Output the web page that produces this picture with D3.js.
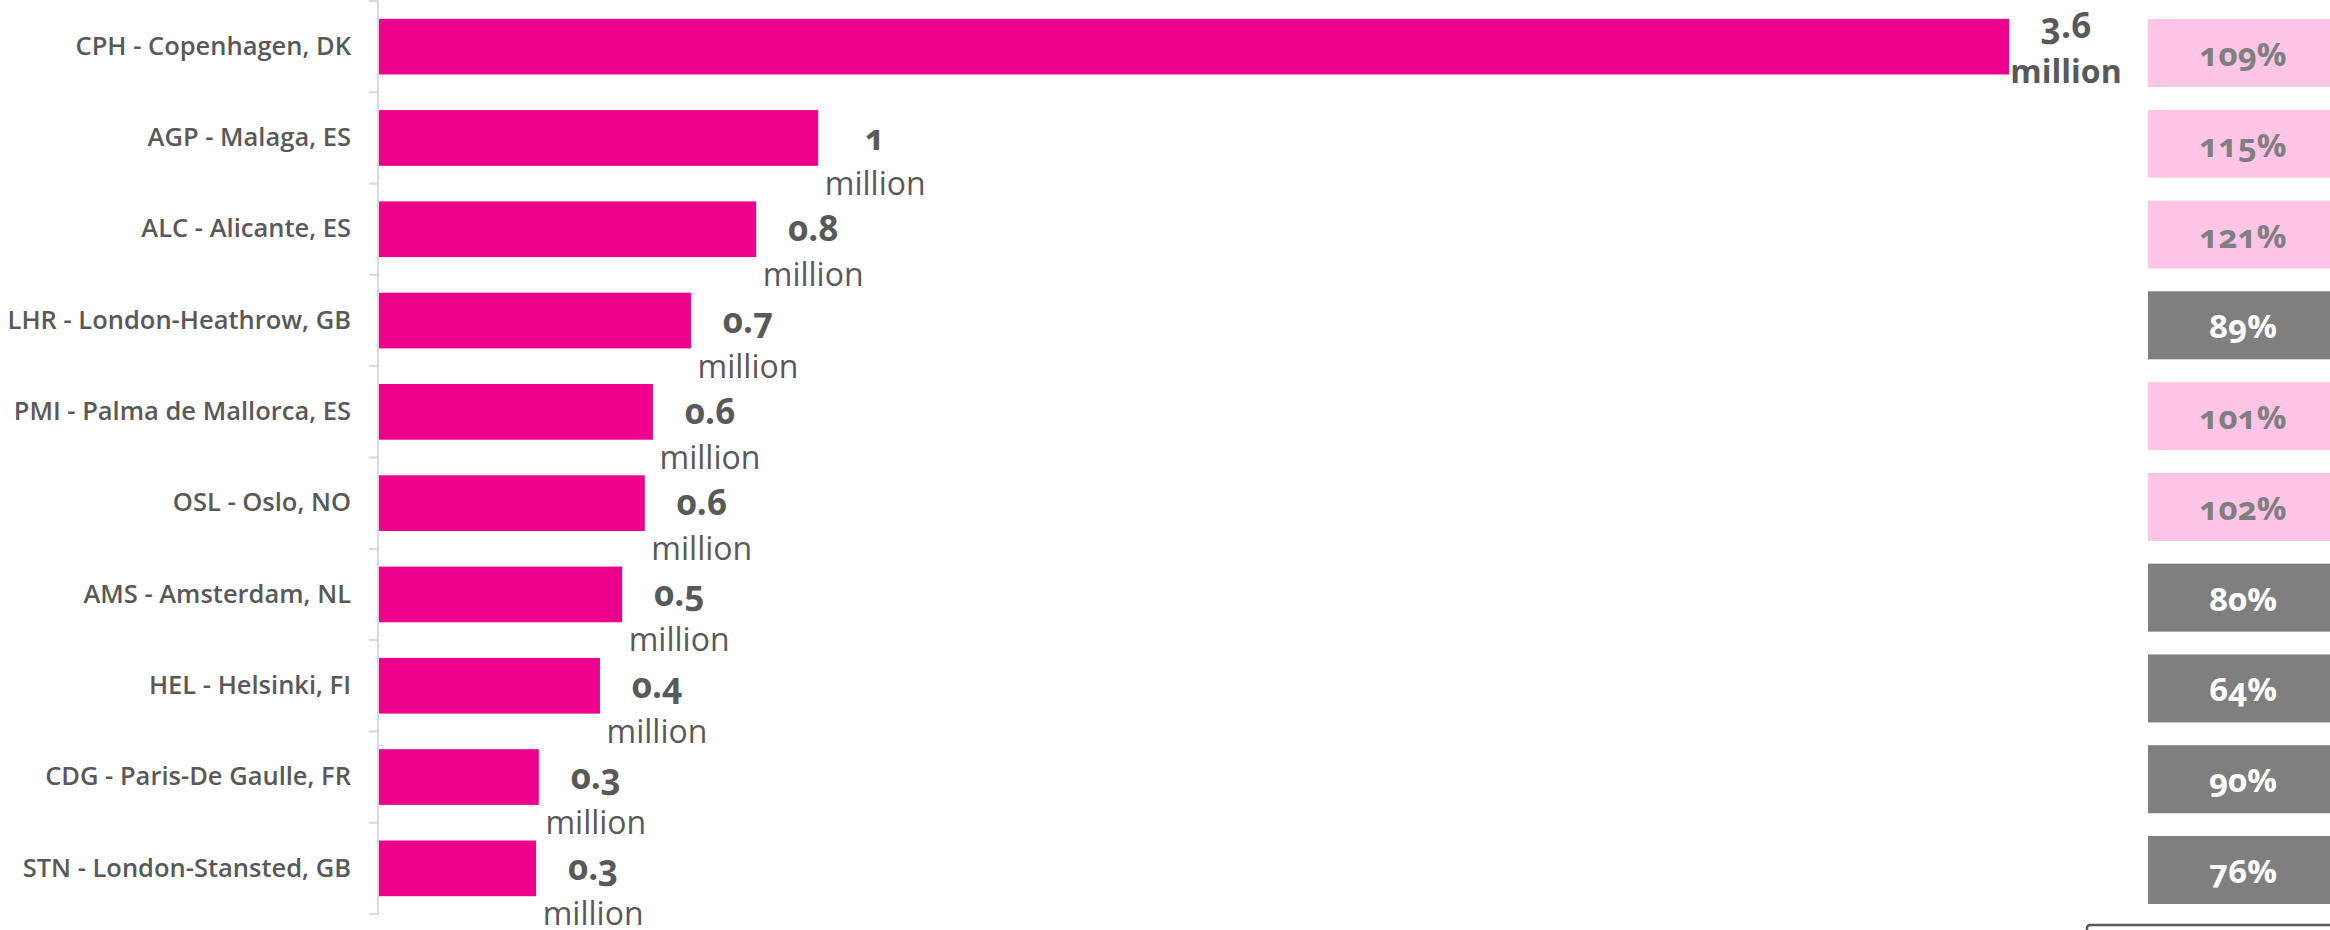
<!DOCTYPE html>
<html>
<head>
<meta charset="utf-8">
<script src="https://cdn.jsdelivr.net/npm/d3@7"></script>
<style>
  body { margin: 0; background: #fff; }
  svg { display: block; }
  text { font-family: "Open Sans", Lato, sans-serif; }
  .num { font-variant-numeric: oldstyle-nums; }
</style>
</head>
<body>
<div id="chart"></div>
<script>
const airports = [
  "CPH - Copenhagen, DK",
  "AGP - Malaga, ES",
  "ALC - Alicante, ES",
  "LHR - London-Heathrow, GB",
  "PMI - Palma de Mallorca, ES",
  "OSL - Oslo, NO",
  "AMS - Amsterdam, NL",
  "HEL - Helsinki, FI",
  "CDG - Paris-De Gaulle, FR",
  "STN - London-Stansted, GB"
]
// passengers in millions
const passengers = [3.6, 0.97, 0.833, 0.689, 0.605, 0.587, 0.537, 0.488, 0.353, 0.347]
const passengerLabels = ["3.6", "1", "0.8", "0.7", "0.6", "0.6", "0.5", "0.4", "0.3", "0.3"]
// index vs previous period, %
const growth = [109, 115, 121, 89, 101, 102, 80, 64, 90, 76]

const width = 2330, height = 930
const pink = "#ec008c", textGrey = "#595959"

const svg = d3.select("#chart").append("svg")
  .attr("width", width)
  .attr("height", height)

const x = d3.scaleLinear()
  .domain([0, 3.6])
  .range([379, 2009])

const y = d3.scaleBand()
  .domain(airports)
  .range([1, 914])
  .paddingInner(0.39)
  .paddingOuter(0.195)

const yBox = d3.scaleBand()
  .domain(airports)
  .range([7.6, 915.4])
  .paddingInner(0.251)
  .paddingOuter(0.1255)

// category axis
const axis = svg.append("g")
  .attr("transform", "translate(378,0)")
  .call(d3.axisLeft(y).tickSize(0).tickPadding(27))
axis.select(".domain").remove()
axis.selectAll("text")
  .attr("fill", textGrey)
  .attr("font-size", 25.5)
  .attr("font-weight", 600)

// axis line + ticks at band boundaries
svg.append("line")
  .attr("x1", 378).attr("x2", 378)
  .attr("y1", y.range()[0]).attr("y2", y.range()[1])
  .attr("stroke", "#d9d9d9").attr("stroke-width", 2)
svg.append("g").selectAll("line")
  .data(d3.range(airports.length + 1))
  .join("line")
  .attr("x1", 369).attr("x2", 378)
  .attr("y1", i => y.range()[0] + i * y.step())
  .attr("y2", i => y.range()[0] + i * y.step())
  .attr("stroke", "#d9d9d9").attr("stroke-width", 2)

// bars
svg.append("g").selectAll("rect")
  .data(airports)
  .join("rect")
  .attr("x", x(0))
  .attr("y", d => y(d))
  .attr("width", (d, i) => x(passengers[i]) - x(0))
  .attr("height", y.bandwidth())
  .attr("fill", pink)

// value labels
const labels = svg.append("g").selectAll("text")
  .data(airports)
  .join("text")
  .attr("class", "num")
  .attr("text-anchor", "middle")
  .attr("fill", textGrey)
  .attr("transform", (d, i) => {
    const cx = x(passengers[i]) + 57
    const cy = y(d) + y.bandwidth() / 2
    return `translate(${cx},${cy})`
  })

labels.append("tspan")
  .attr("x", 0)
  .attr("y", (d, i) => i === 0 ? -9 : 12)
  .attr("font-size", 35)
  .attr("font-weight", 700)
  .text((d, i) => passengerLabels[i])
labels.append("tspan")
  .attr("x", 0)
  .attr("y", (d, i) => i === 0 ? 36 : 57)
  .attr("font-size", 32)
  .attr("font-weight", (d, i) => i === 0 ? 700 : 400)
  .text("million")

// growth boxes
const boxes = svg.append("g").selectAll("g")
  .data(airports)
  .join("g")
  .attr("transform", d => `translate(2148,${yBox(d)})`)

boxes.append("rect")
  .attr("width", 190)
  .attr("height", yBox.bandwidth())
  .attr("fill", (d, i) => growth[i] >= 100 ? "#ffc5e6" : "#7f7f7f")

boxes.append("text")
  .attr("class", "num")
  .attr("x", 95)
  .attr("y", yBox.bandwidth() / 2 + 13)
  .attr("text-anchor", "middle")
  .attr("font-size", 33)
  .attr("font-weight", 700)
  .attr("fill", (d, i) => growth[i] >= 100 ? "#7f7f7f" : "#ffffff")
  .text((d, i) => growth[i] + "%")

// edge of a box cut off at the bottom right
svg.append("rect")
  .attr("x", 2087).attr("y", 925)
  .attr("width", 300).attr("height", 40)
  .attr("rx", 3)
  .attr("fill", "#fff")
  .attr("stroke", "#595959")
  .attr("stroke-width", 2.5)
</script>
</body>
</html>
